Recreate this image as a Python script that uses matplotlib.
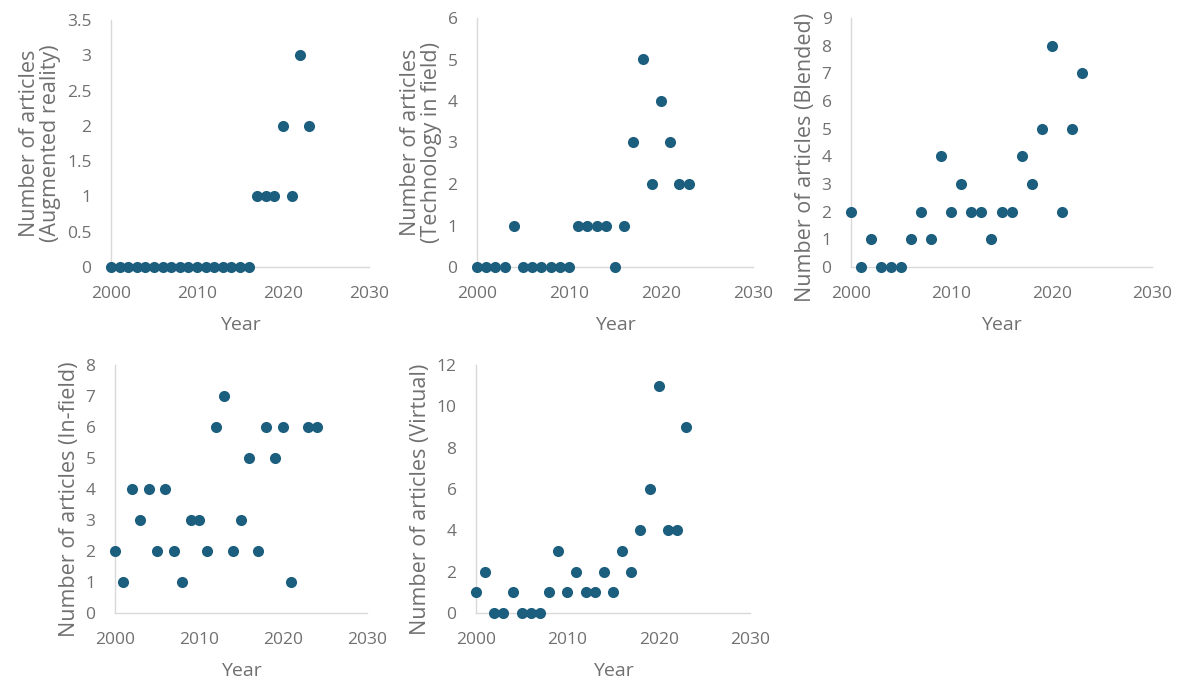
import matplotlib
matplotlib.use("Agg")
import matplotlib.pyplot as plt
from matplotlib.ticker import FuncFormatter

plt.rcParams['font.family'] = ['Open Sans', 'DejaVu Sans']

# ---- data ----
ar_years = list(range(2000, 2024))
ar_counts = [0]*17 + [1, 1, 1, 2, 1, 3, 2]

tech_years = list(range(2000, 2024))
tech_counts = [0, 0, 0, 0, 1, 0, 0, 0, 0, 0, 0, 1, 1, 1, 1, 0, 1, 3, 5, 2, 4, 3, 2, 2]

blend_years = list(range(2000, 2024))
blend_counts = [2, 0, 1, 0, 0, 0, 1, 2, 1, 4, 2, 3, 2, 2, 1, 2, 2, 4, 3, 5, 8, 2, 5, 7]

infield_years = list(range(2000, 2022)) + [2023, 2024]
infield_counts = [2, 1, 4, 3, 4, 2, 4, 2, 1, 3, 3, 2, 6, 7, 2, 3, 5, 2, 6, 5, 6, 1, 6, 6]

virtual_years = list(range(2000, 2024))
virtual_counts = [1, 2, 0, 0, 1, 0, 0, 0, 1, 3, 1, 2, 1, 1, 2, 1, 3, 2, 4, 6, 11, 4, 4, 9]

x_ticks = [2000, 2010, 2020, 2030]

W, H = 1181, 691
fig = plt.figure(figsize=(W/100, H/100), dpi=100)

DOT = '#1B5E7E'
TXT = '#707070'
SPINE = '#D9D9D9'

def make_ax(l, r, b, t, years, counts, ymax, ystep, ylabel, ly=0.5):
    ax = fig.add_axes([l/W, (H-b)/H, (r-l)/W, (b-t)/H])
    ax.scatter(years, counts, s=64, color=DOT, clip_on=False, zorder=3, linewidths=0)
    ax.set_xlim(2000, 2030)
    ax.set_ylim(0, ymax)
    ax.set_xticks(x_ticks)
    n = int(round(ymax/ystep))
    ax.set_yticks([i*ystep for i in range(n+1)])
    ax.yaxis.set_major_formatter(FuncFormatter(lambda v, p: ('%g' % v)))
    for s in ['top', 'right']:
        ax.spines[s].set_visible(False)
    for s in ['left', 'bottom']:
        ax.spines[s].set_color(SPINE)
        ax.spines[s].set_linewidth(1.0)
    ax.tick_params(length=0, labelsize=12.5, colors=TXT, pad=14)
    ax.set_xlabel('Year', fontsize=14, color=TXT, labelpad=10)
    ax.set_ylabel(ylabel, fontsize=15.5, color=TXT, labelpad=4, linespacing=1.0, y=ly)
    ax.patch.set_alpha(0)
    return ax

make_ax(111, 369, 267, 20, ar_years, ar_counts, 3.5, 0.5,
        'Number of articles\n(Augmented reality)')
make_ax(477, 753, 267, 18, tech_years, tech_counts, 6, 1,
        'Number of articles\n(Technology in field)')
make_ax(851, 1152, 267, 18, blend_years, blend_counts, 9, 1,
        'Number of articles (Blended)', ly=0.44)
make_ax(115, 367, 613, 365, infield_years, infield_counts, 8, 1,
        'Number of articles (In-field)', ly=0.46)
make_ax(476, 750, 613, 365, virtual_years, virtual_counts, 12, 2,
        'Number of articles (Virtual)', ly=0.46)

fig.savefig('out.png', dpi=100, facecolor='white')
